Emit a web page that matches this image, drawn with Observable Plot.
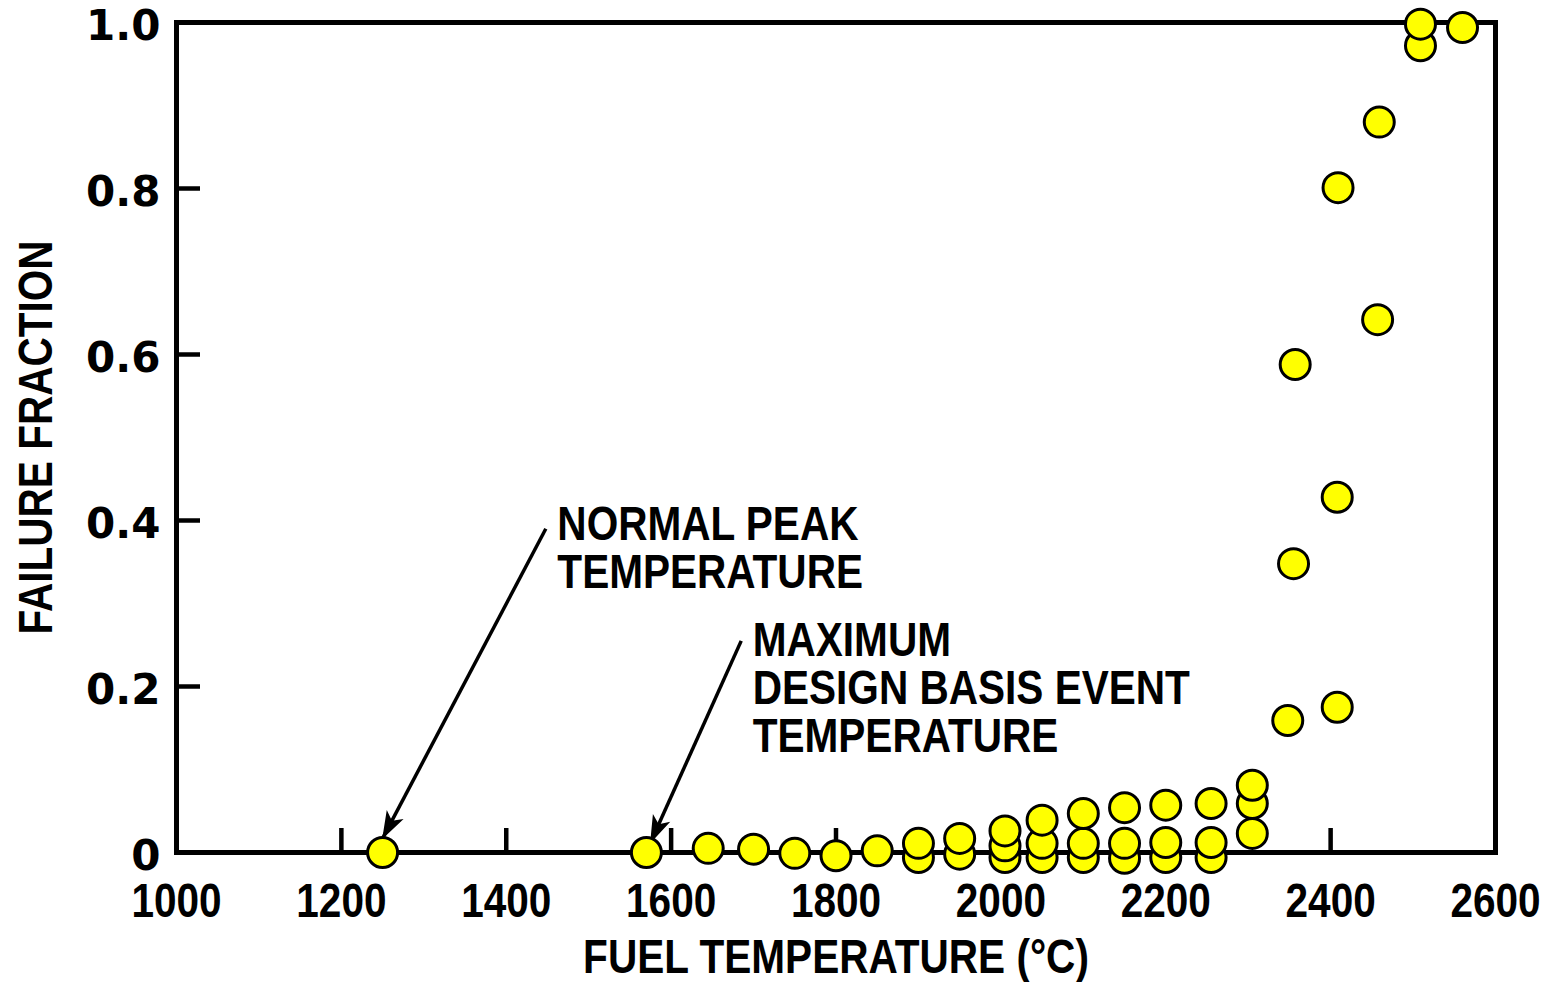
<!DOCTYPE html>
<html>
<head>
<meta charset="utf-8">
<script src="https://cdn.jsdelivr.net/npm/d3@7"></script>
<script src="https://cdn.jsdelivr.net/npm/@observablehq/plot@0.6"></script>
<style>
  html, body { margin: 0; padding: 0; background: #ffffff; }
  #chart { width: 1549px; height: 982px; }
</style>
</head>
<body>
<div id="chart"></div>
<script>
// ---- data ----
const temperatures = [
  1250, 1570, 1645, 1700, 1750, 1800, 1850,
  1900, 1900,
  1950, 1950,
  2005, 2005, 2005,
  2050, 2050, 2050,
  2100, 2100, 2100,
  2150, 2150, 2150,
  2200, 2200, 2200,
  2255, 2255, 2255,
  2305, 2305, 2305,
  2348, 2355, 2357,
  2408, 2408, 2409,
  2457, 2459,
  2509, 2509, 2560
];
const failureFractions = [
  0.000, 0.000, 0.005, 0.004, -0.001, -0.004, 0.002,
  -0.006, 0.011,
  -0.002, 0.017,
  -0.006, 0.008, 0.026,
  -0.006, 0.011, 0.039,
  -0.006, 0.011, 0.047,
  -0.007, 0.011, 0.054,
  -0.006, 0.012, 0.057,
  -0.006, 0.012, 0.059,
  0.023, 0.059, 0.081,
  0.159, 0.348, 0.588,
  0.175, 0.428, 0.801,
  0.642, 0.880,
  0.972, 0.998, 0.994
];
const xTicks = [1000, 1200, 1400, 1600, 1800, 2000, 2200, 2400, 2600];
const yTicks = [0, 0.2, 0.4, 0.6, 0.8, 1.0];
const xInnerTicks = [1200, 1400, 1600, 1800, 2000, 2200, 2400];
const yInnerTicks = [0.2, 0.4, 0.6, 0.8];
const xTitle = "FUEL TEMPERATURE (°C)";
const yTitle = "FAILURE FRACTION";
const noteLabels = ["NORMAL PEAK\nTEMPERATURE", "MAXIMUM\nDESIGN BASIS EVENT\nTEMPERATURE"];
const noteTextX = [1462, 1699];
const noteTextY = [0.417, 0.278];
const arrowFromX = [1448, 1685];
const arrowFromY = [0.390, 0.255];
const arrowToX = [1250, 1575];
const arrowToY = [0.017, 0.012];

// ---- build tables ----
const points = temperatures.map((t, i) => ({t, f: failureFractions[i]}));
const notes = noteLabels.map((text, i) => ({text, x: noteTextX[i], y: noteTextY[i]}));
const arrows = arrowFromX.map((x1, i) => ({x1, y1: arrowFromY[i], x2: arrowToX[i], y2: arrowToY[i]}));

const W = 1549, H = 982, ML = 176, MR = 54, MT = 22, MB = 130;
const NARROW = "'Liberation Sans Narrow', 'Arial Narrow', 'Liberation Sans', Arial, sans-serif";
const WIDE = "'DejaVu Sans', Verdana, sans-serif";
const tickLen = 24;
const CONDENSE = 0.845;

// filled arrowhead with a notched back
function filledHead(color, context) {
  const ns = "http://www.w3.org/2000/svg";
  const doc = (context && context.document) || document;
  const m = doc.createElementNS(ns, "marker");
  m.setAttribute("viewBox", "-30 -12 32 24");
  m.setAttribute("markerUnits", "userSpaceOnUse");
  m.setAttribute("markerWidth", "32");
  m.setAttribute("markerHeight", "24");
  m.setAttribute("refX", "0");
  m.setAttribute("refY", "0");
  m.setAttribute("orient", "auto");
  const p = doc.createElementNS(ns, "path");
  p.setAttribute("d", "M1,0L-27,-9.5L-20,0L-27,9.5Z");
  p.setAttribute("fill", "#000");
  p.setAttribute("stroke", "none");
  m.appendChild(p);
  return m;
}

function build(useMarker) {
  const arrowMark = useMarker
    ? Plot.link(arrows, {x1: "x1", y1: "y1", x2: "x2", y2: "y2", stroke: "#000", strokeWidth: 3.5, markerEnd: filledHead})
    : Plot.arrow(arrows, {x1: "x1", y1: "y1", x2: "x2", y2: "y2", stroke: "#000", strokeWidth: 3.5, headLength: 10, headAngle: 40});
  return Plot.plot({
    width: W,
    height: H,
    marginLeft: ML,
    marginRight: MR,
    marginTop: MT,
    marginBottom: MB,
    style: {background: "#ffffff", color: "#000000"},
    x: {domain: [1000, 2600], axis: null},
    y: {domain: [0, 1], axis: null},
    marks: [
      Plot.frame({stroke: "#000", strokeWidth: 5}),
      Plot.tickX(xInnerTicks, {x: d => d, stroke: "#000", strokeWidth: 4.5, insetTop: (H - MT - MB) - tickLen}),
      Plot.tickY(yInnerTicks, {y: d => d, stroke: "#000", strokeWidth: 4.5, insetRight: (W - ML - MR) - tickLen}),
      Plot.axisX(xTicks, {
        tickSize: 0, tickPadding: 30, label: null,
        tickFormat: d => String(d),
        fontSize: 48, fontWeight: "bold", fontFamily: NARROW, fill: "#000"
      }),
      Plot.axisY(yTicks, {
        tickSize: 0, tickPadding: 16, label: null, dy: 4,
        tickFormat: d => d === 0 ? "0" : d.toFixed(1),
        fontSize: 42, fontWeight: "bold", fontFamily: WIDE, fill: "#000"
      }),
      Plot.text([yTitle], {
        frameAnchor: "left", textAnchor: "middle", lineAnchor: "middle", rotate: -90, dx: -140, text: d => d,
        fontSize: 48, fontWeight: "bold", fontFamily: NARROW, fill: "#000"
      }),
      Plot.text([xTitle], {
        frameAnchor: "bottom", textAnchor: "middle", lineAnchor: "middle", dy: 105, text: d => d,
        fontSize: 48, fontWeight: "bold", fontFamily: NARROW, fill: "#000"
      }),
      Plot.text(notes, {
        x: "x", y: "y", text: "text", textAnchor: "start", lineAnchor: "top", lineHeight: 1.0,
        fontSize: 48, fontWeight: "bold", fontFamily: NARROW, fill: "#000"
      }),
      arrowMark,
      Plot.dot(points, {
        x: "t", y: "f", r: 15, fill: "#ffff00", stroke: "#000", strokeWidth: 3,
        sort: "f"
      })
    ]
  });
}

let chart;
try { chart = build(true); } catch (e) { chart = build(false); }

// condense the Helvetica-narrow style lettering (no narrow face installed)
chart.querySelectorAll('g[font-family*="Narrow"] text').forEach(t => {
  const tr = t.getAttribute("transform") || "";
  if (t.hasAttribute("x")) {
    const x = +t.getAttribute("x");
    t.setAttribute("x", x / CONDENSE);
  }
  t.setAttribute("transform", tr + ` scale(${CONDENSE},1)`);
});

document.getElementById("chart").appendChild(chart);
</script>
</body>
</html>
